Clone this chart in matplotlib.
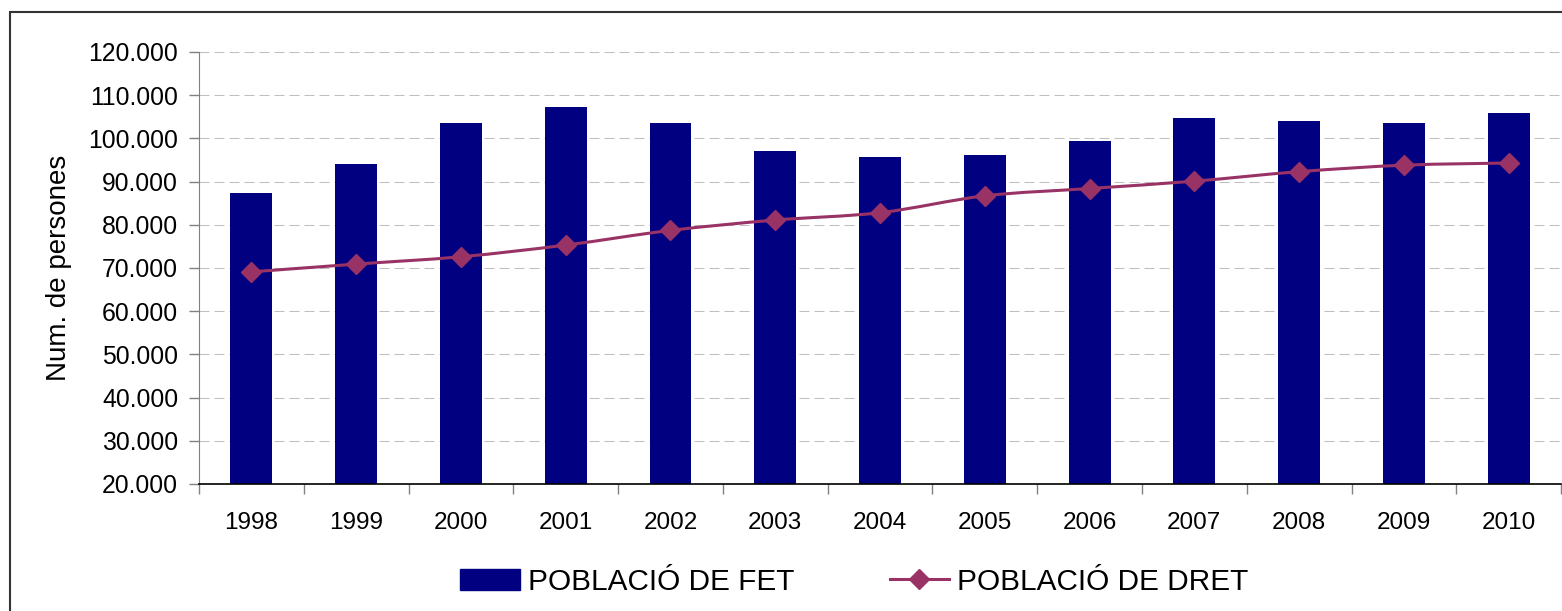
import numpy as np
import matplotlib.pyplot as plt
from matplotlib.path import Path
from matplotlib.patches import PathPatch, Rectangle
from matplotlib.lines import Line2D
from matplotlib.ticker import FuncFormatter, FixedLocator

plt.rcParams['font.family'] = ['Liberation Sans', 'DejaVu Sans']

# dades
anys = ['1998', '1999', '2000', '2001', '2002', '2003', '2004',
        '2005', '2006', '2007', '2008', '2009', '2010']
poblacio_fet = [87400, 94100, 103600, 107300, 103600, 97100, 95700,
                96200, 99400, 104700, 104000, 103600, 105900]
poblacio_dret = [69100, 70900, 72600, 75300, 78700, 81100, 82800,
                 86700, 88400, 90100, 92300, 93800, 94300]

bar_color = '#000080'
line_color = '#993366'

fig = plt.figure(figsize=(15.62, 6.11), dpi=100)
ax = fig.add_axes([0.1274, 0.2079, 0.872, 0.707])

x = np.arange(len(anys))
ax.bar(x, poblacio_fet, width=0.4, color=bar_color, zorder=2)

# linia suavitzada (estil Excel)
pts = np.column_stack([x, poblacio_dret]).astype(float)
verts = [tuple(pts[0])]
codes = [Path.MOVETO]
for i in range(len(pts) - 1):
    p0 = pts[i - 1] if i > 0 else pts[i]
    p1 = pts[i]
    p2 = pts[i + 1]
    p3 = pts[i + 2] if i + 2 < len(pts) else pts[i + 1]
    c1 = p1 + (p2 - p0) / 6.0
    c2 = p2 - (p3 - p1) / 6.0
    verts += [tuple(c1), tuple(c2), tuple(p2)]
    codes += [Path.CURVE4] * 3
ax.add_patch(PathPatch(Path(verts, codes), facecolor='none',
                       edgecolor=line_color, lw=2.2, zorder=3))
ax.plot(x, poblacio_dret, linestyle='none', marker='D', ms=10,
        color=line_color, zorder=4)

ax.set_xlim(-0.5, len(anys) - 0.5)
ax.set_ylim(20000, 120000)
ax.set_yticks(np.arange(20000, 120001, 10000))
ax.yaxis.set_major_formatter(FuncFormatter(lambda v, p: f"{int(v):,}".replace(',', '.')))
ax.set_xticks(x)
ax.set_xticklabels(anys)
ax.xaxis.set_minor_locator(FixedLocator(np.arange(-0.5, len(anys), 1.0)))

ax.tick_params(axis='x', which='major', length=0, pad=20, labelsize=17.5)
ax.tick_params(axis='x', which='minor', length=7, width=1, color='#808080')
ax.tick_params(axis='y', length=7, width=1, color='#808080', pad=8, labelsize=17.8)

ax.grid(axis='y', color='#c0c0c0', linestyle=(0, (9.6, 4.8)), linewidth=0.75, zorder=0)
ax.set_axisbelow(True)

for s in ['top', 'right']:
    ax.spines[s].set_visible(False)
ax.spines['left'].set_color('#808080')
ax.spines['bottom'].set_color('black')
ax.spines['bottom'].set_linewidth(1.2)

ax.set_ylabel('Num. de persones', fontsize=20, labelpad=12)

handles = [Rectangle((0, 0), 1, 1, color=bar_color),
           Line2D([], [], color=line_color, lw=2.2, marker='D', ms=10)]
fig.legend(handles, ['POBLACIÓ DE FET', 'POBLACIÓ DE DRET'], ncol=2,
           loc='center', bbox_to_anchor=(0.547, 0.048), frameon=False,
           fontsize=21.4, handlelength=2.0, handletextpad=0.28, columnspacing=3.2)

# marc exterior
fig.patches.append(Rectangle((0.0064, -0.1), 1.2, 1.0804, transform=fig.transFigure,
                             fill=False, edgecolor='#333333', lw=1.5))

fig.savefig('out.png', dpi=100)
